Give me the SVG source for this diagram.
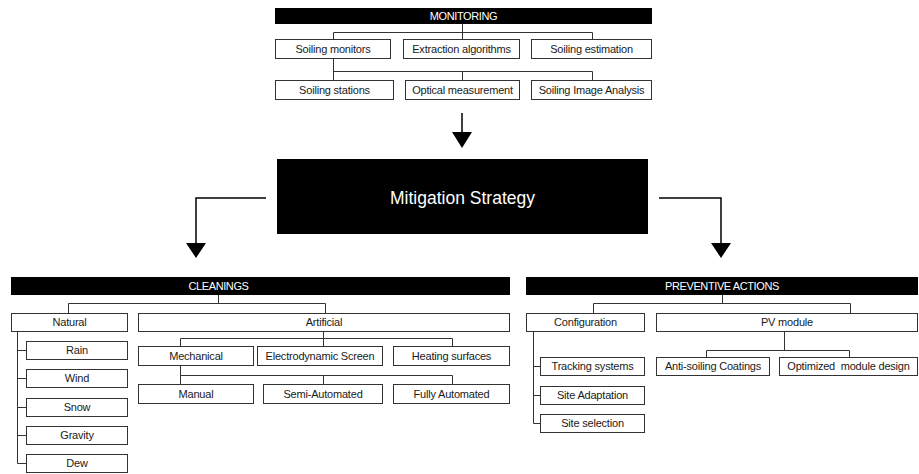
<svg xmlns="http://www.w3.org/2000/svg" width="919" height="474" viewBox="0 0 919 474">
<defs>
<style>
.bx{fill:#fff;stroke:#333;stroke-width:1}
.bar{fill:#000}
.t{font-family:"Liberation Sans",Arial,sans-serif;font-size:11px;fill:#1a1a1a;text-anchor:middle;letter-spacing:-0.2px}
.h{font-family:"Liberation Sans",Arial,sans-serif;font-size:11px;fill:#fff;text-anchor:middle;letter-spacing:-0.4px}
.big{font-family:"Liberation Sans",Arial,sans-serif;font-size:17.5px;fill:#fff;text-anchor:middle}
.ln{fill:none;stroke:#333;stroke-width:1}
.ar{fill:none;stroke:#000;stroke-width:1.5}
.hd{fill:#000}
</style>
</defs>
<g id="connectors">
<path class="ln" d="M462.5,24V32.5M333.5,32.5H592.5M333.5,32.5V39M462.5,32.5V39M592.5,32.5V39"/>
<path class="ln" d="M333.5,59V80M333.5,71.5H592.5M462.5,71.5V80M592.5,71.5V80"/>
<path class="ar" d="M462,113V133"/>
<polygon class="hd" points="452,132 472,132 462,148"/>
<path class="ar" d="M266,198H196V244"/>
<polygon class="hd" points="186,243 206,243 196,258"/>
<path class="ar" d="M659,198H721V244"/>
<polygon class="hd" points="711,243 731,243 721,258"/>
<path class="ln" d="M218.5,295V303.5M68.5,303.5H325.5M68.5,303.5V313M325.5,303.5V313"/>
<path class="ln" d="M17.5,332V463.5H26M17.5,350.5H26M17.5,378.5H26M17.5,407.5H26M17.5,435.5H26"/>
<path class="ln" d="M323.5,332V346M180.5,338.5H452.5M180.5,338.5V346M452.5,338.5V346"/>
<path class="ln" d="M180.5,365V384M180.5,375.5H452.5M323.5,375.5V384M452.5,375.5V384"/>
<path class="ln" d="M722.5,295V303.5M593.5,303.5H850.5M593.5,303.5V313M850.5,303.5V313"/>
<path class="ln" d="M533.5,332V423.5H540M533.5,366.5H540M533.5,395.5H540"/>
<path class="ln" d="M784.5,332V350.5M706.5,350.5H849.5M706.5,350.5V357M849.5,350.5V357"/>
</g>
<g id="monitoring"><rect class="bar" x="275" y="8" width="377" height="16"/><text class="h" x="463.5" y="20">MONITORING</text></g>
<g id="soiling-monitors"><rect class="bx" x="275.5" y="39.5" width="115" height="19"/><text class="t" x="333" y="52.8">Soiling monitors</text></g>
<g id="extraction-algorithms"><rect class="bx" x="403.5" y="39.5" width="116" height="19"/><text class="t" x="461.5" y="52.8">Extraction algorithms</text></g>
<g id="soiling-estimation"><rect class="bx" x="531.5" y="39.5" width="120" height="19"/><text class="t" x="591.5" y="52.8">Soiling estimation</text></g>
<g id="soiling-stations"><rect class="bx" x="275.5" y="80.5" width="118" height="19"/><text class="t" x="334.5" y="93.8">Soiling stations</text></g>
<g id="optical-measurement"><rect class="bx" x="405.5" y="80.5" width="114" height="19"/><text class="t" x="462.5" y="93.8">Optical measurement</text></g>
<g id="soiling-image-analysis"><rect class="bx" x="531.5" y="80.5" width="120" height="19"/><text class="t" x="591.5" y="93.8">Soiling Image Analysis</text></g>
<g id="mitigation-strategy"><rect class="bar" x="277" y="159" width="371" height="75"/><text class="big" x="462.5" y="204">Mitigation Strategy</text></g>
<g id="cleanings"><rect class="bar" x="11" y="277" width="499" height="18"/><text class="h" x="218.5" y="290">CLEANINGS</text></g>
<g id="natural"><rect class="bx" x="11.5" y="313.5" width="116" height="18"/><text class="t" x="69.5" y="326.3">Natural</text></g>
<g id="artificial"><rect class="bx" x="138.5" y="313.5" width="371" height="18"/><text class="t" x="324" y="326.3">Artificial</text></g>
<g id="rain"><rect class="bx" x="26.5" y="341.5" width="101" height="18"/><text class="t" x="77" y="354.3">Rain</text></g>
<g id="wind"><rect class="bx" x="26.5" y="369.5" width="101" height="18"/><text class="t" x="77" y="382.3">Wind</text></g>
<g id="snow"><rect class="bx" x="26.5" y="398.5" width="101" height="18"/><text class="t" x="77" y="411.3">Snow</text></g>
<g id="gravity"><rect class="bx" x="26.5" y="426.5" width="101" height="18"/><text class="t" x="77" y="439.3">Gravity</text></g>
<g id="dew"><rect class="bx" x="26.5" y="454.5" width="101" height="18"/><text class="t" x="77" y="467.3">Dew</text></g>
<g id="mechanical"><rect class="bx" x="138.5" y="346.5" width="115" height="19"/><text class="t" x="196" y="359.8">Mechanical</text></g>
<g id="electrodynamic-screen"><rect class="bx" x="257.5" y="346.5" width="125" height="19"/><text class="t" x="320" y="359.8">Electrodynamic Screen</text></g>
<g id="heating-surfaces"><rect class="bx" x="393.5" y="346.5" width="116" height="19"/><text class="t" x="451.5" y="359.8">Heating surfaces</text></g>
<g id="manual"><rect class="bx" x="138.5" y="384.5" width="115" height="19"/><text class="t" x="196" y="397.8">Manual</text></g>
<g id="semi-automated"><rect class="bx" x="263.5" y="384.5" width="119" height="19"/><text class="t" x="323" y="397.8">Semi-Automated</text></g>
<g id="fully-automated"><rect class="bx" x="393.5" y="384.5" width="116" height="19"/><text class="t" x="451.5" y="397.8">Fully Automated</text></g>
<g id="preventive-actions"><rect class="bar" x="526" y="277" width="392" height="18"/><text class="h" x="722" y="290">PREVENTIVE ACTIONS</text></g>
<g id="configuration"><rect class="bx" x="526.5" y="313.5" width="118" height="18"/><text class="t" x="585.5" y="326.3">Configuration</text></g>
<g id="pv-module"><rect class="bx" x="656.5" y="313.5" width="261" height="18"/><text class="t" x="787" y="326.3">PV module</text></g>
<g id="tracking-systems"><rect class="bx" x="540.5" y="357.5" width="104" height="18"/><text class="t" x="592.5" y="370.3">Tracking systems</text></g>
<g id="site-adaptation"><rect class="bx" x="540.5" y="386.5" width="104" height="18"/><text class="t" x="592.5" y="399.3">Site Adaptation</text></g>
<g id="site-selection"><rect class="bx" x="540.5" y="414.5" width="104" height="18"/><text class="t" x="592.5" y="427.3">Site selection</text></g>
<g id="anti-soiling-coatings"><rect class="bx" x="656.5" y="357.5" width="113" height="18"/><text class="t" x="713" y="370.3">Anti-soiling Coatings</text></g>
<g id="optimized-module-design"><rect class="bx" x="779.5" y="357.5" width="138" height="18"/><text class="t" x="848.5" y="370.3">Optimized&#160; module design</text></g>
</svg>
